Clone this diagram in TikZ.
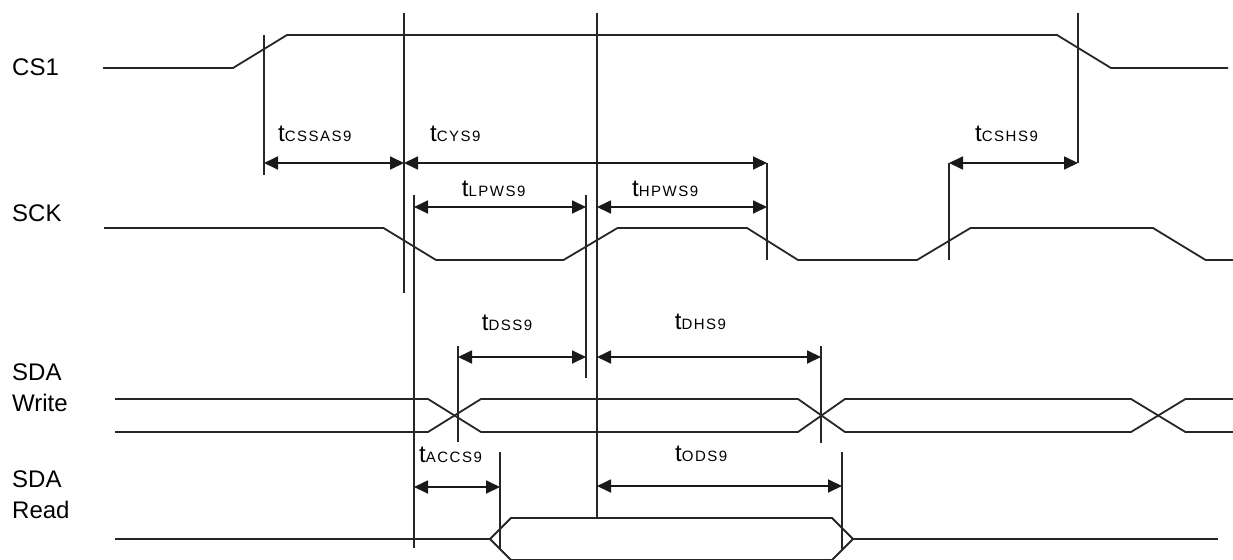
\documentclass[tikz,border=0pt]{standalone}
\usepackage{fontspec}
\setmainfont{Liberation Sans}
\newfontfamily\subfont[LetterSpace=10]{Liberation Sans}
\usetikzlibrary{arrows.meta}
\newcommand\tlab[1]{{\fontsize{24}{24}\selectfont t}{\subfont\fontsize{15}{15}\selectfont #1}}
\tikzset{
  wave/.style={line width=1.8pt, black!85, line join=miter},
  vmark/.style={line width=1.8pt, black!85},
  dim/.style={line width=1.8pt, black!90, {Triangle[length=14pt,width=13pt]}-{Triangle[length=14pt,width=13pt]}},
  sig/.style={font=\fontsize{24}{31}\selectfont, anchor=base west, inner sep=0pt, align=left},
  tl/.style={anchor=base west, inner sep=0pt}
}
\begin{document}
\begin{tikzpicture}[x=1pt,y=-1pt]
\useasboundingbox (0,0) rectangle (1233,559);
% signal names
\node[sig] (ncs) at (12,76) {CS1};
\node[sig] (nsck) at (12,221) {SCK};
\node[sig] (nsdaw) at (12,411) {SDA\\Write};
\node[sig] (nsdar) at (12,518) {SDA\\Read};
% waveforms
\draw[wave] (103,68) -- (233,68) -- (287,35) -- (1057,35) -- (1111,68) -- (1228,68);
\draw[wave] (104,228) -- (383.5,228) -- (436,260) -- (563.5,260) -- (617.5,228) -- (747,228) -- (798,260) -- (917,260) -- (970.5,228) -- (1153,228) -- (1205.6,260) -- (1233,260);
\draw[wave] (115,399) -- (428,399) -- (481,432) -- (798,432) -- (845,399) -- (1131,399) -- (1185.4,432) -- (1233,432);
\draw[wave] (115,432) -- (428,432) -- (481,399) -- (798,399) -- (845,432) -- (1131,432) -- (1185.4,399) -- (1233,399);
\draw[wave] (115,539) -- (490,539);
\draw[wave] (490,539) -- (511,518) -- (832,518) -- (853,539) -- (832,560) -- (511,560) -- cycle;
\draw[wave] (853,539) -- (1218,539);
% vertical reference lines
\coordinate (v1t) at (264,35);    \coordinate (v1b) at (264,175);
\coordinate (v2t) at (404,13);    \coordinate (v2b) at (404,293);
\coordinate (v3t) at (597,13);    \coordinate (v3b) at (597,518);
\coordinate (v4t) at (1078,13);   \coordinate (v4b) at (1078,163);
\coordinate (v5t) at (767,163);   \coordinate (v5b) at (767,260);
\coordinate (v6t) at (949,163);   \coordinate (v6b) at (949,260);
\coordinate (v7t) at (414,195);   \coordinate (v7b) at (414,548);
\coordinate (v8t) at (586,195);   \coordinate (v8b) at (586,378);
\coordinate (v9t) at (458,346);   \coordinate (v9b) at (458,442);
\coordinate (v10t) at (821,346);  \coordinate (v10b) at (821,443);
\coordinate (v11t) at (500,452);  \coordinate (v11b) at (500,549);
\coordinate (v12t) at (842,452);  \coordinate (v12b) at (842,549);
\foreach \i in {1,...,12} \draw[vmark] (v\i t) -- (v\i b);
% dimension arrows
\draw[dim] (264,163) -- (404,163);
\draw[dim] (404,163) -- (767,163);
\draw[dim] (414,207) -- (586,207);
\draw[dim] (597,207) -- (767,207);
\draw[dim] (949,163) -- (1078,163);
\draw[dim] (458,357) -- (586,357);
\draw[dim] (597,357) -- (821,357);
\draw[dim] (414,487) -- (500,487);
\draw[dim] (597,486) -- (842,486);
% timing labels
\node[tl] (lcssas) at (278,141) {\tlab{CSSAS9}};
\node[tl] (lcys) at (430,141) {\tlab{CYS9}};
\node[tl] (llpw) at (461.7,196) {\tlab{LPWS9}};
\node[tl] (lhpw) at (632,196) {\tlab{HPWS9}};
\node[tl] (lcsh) at (975,142) {\tlab{CSHS9}};
\node[tl] (ldss) at (481.7,330) {\tlab{DSS9}};
\node[tl] (ldhs) at (674.7,329) {\tlab{DHS9}};
\node[tl] (lacc) at (419,462) {\tlab{ACCS9}};
\node[tl] (lods) at (675,461) {\tlab{ODS9}};
\end{tikzpicture}
\end{document}
